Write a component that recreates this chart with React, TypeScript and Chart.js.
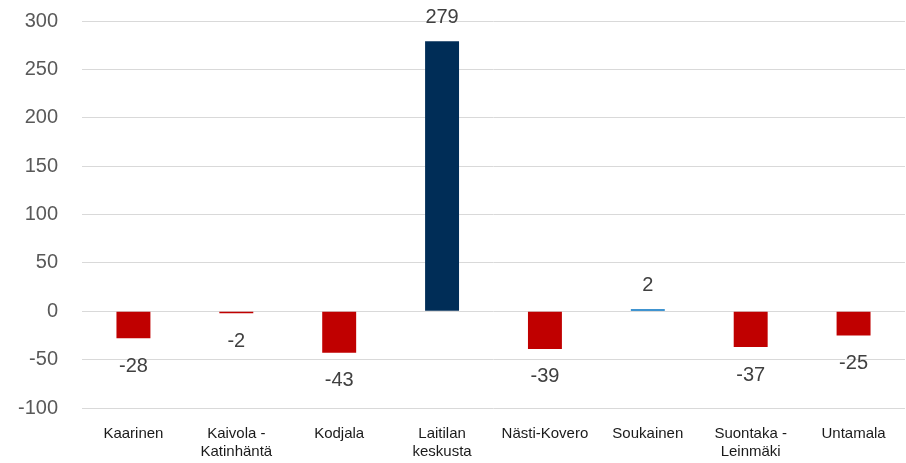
import React, { useEffect, useRef } from "react";
import { Chart, registerables } from "chart.js";

Chart.register(...registerables);

const categories: (string | string[])[] = [
  "Kaarinen",
  ["Kaivola -", "Katinhäntä"],
  "Kodjala",
  ["Laitilan", "keskusta"],
  "Nästi-Kovero",
  "Soukainen",
  ["Suontaka -", "Leinmäki"],
  "Untamala",
];
const values = [-28, -2, -43, 279, -39, 2, -37, -25];
const barColors = ["#C00000", "#C00000", "#C00000", "#002D57", "#C00000", "#0070C0", "#C00000", "#C00000"];
const yMin = -100;
const yMax = 300;
const yStep = 50;

const FONT = "'Liberation Sans', Arial, sans-serif";

const labelPlugin = {
  id: "valueLabels",
  afterDatasetsDraw(chart: any) {
    const ctx = chart.ctx;
    const meta = chart.getDatasetMeta(0);
    ctx.save();
    ctx.font = `20px ${FONT}`;
    ctx.fillStyle = "#404040";
    ctx.textAlign = "center";
    ctx.textBaseline = "middle";
    meta.data.forEach((bar: any, i: number) => {
      const v = values[i];
      const y = v < 0 ? bar.y + 28 : bar.y - 24;
      ctx.fillText(String(v), bar.x, y);
    });
    ctx.restore();
  },
};

export default function App() {
  const ref = useRef<HTMLCanvasElement>(null);
  useEffect(() => {
    document.body.style.margin = "0";
    const chart = new Chart(ref.current!, {
      type: "bar",
      data: {
        labels: categories,
        datasets: [
          {
            data: values,
            backgroundColor: barColors,
            borderWidth: 0,
            barPercentage: 0.33,
            categoryPercentage: 1,
          },
        ],
      },
      options: {
        animation: false,
        responsive: false,
        maintainAspectRatio: false,
        layout: { padding: { top: 21, right: 1, left: 0, bottom: 0 } },
        plugins: { legend: { display: false }, tooltip: { enabled: false } },
        scales: {
          x: {
            grid: { display: false },
            border: { display: false },
            ticks: {
              color: "#1a1a1a",
              font: { family: FONT, size: 15 },
              padding: 9,
              maxRotation: 0,
              autoSkip: false,
            },
            afterFit: (s: any) => {
              s.height = 55;
            },
          },
          y: {
            min: yMin,
            max: yMax,
            grid: {
              color: "#d9d9d9",
              lineWidth: 1,
              drawTicks: true,
              tickLength: 24,
              tickColor: "rgba(0,0,0,0)",
            },
            border: { display: false },
            ticks: {
              stepSize: yStep,
              color: "#595959",
              font: { family: FONT, size: 20 },
              padding: 0,
            },
            afterFit: (s: any) => {
              s.width = 82;
            },
          },
        },
      },
      plugins: [labelPlugin],
    });
    return () => chart.destroy();
  }, []);
  return (
    <div style={{ width: 906, height: 463 }}>
      <canvas ref={ref} width={906} height={463} />
    </div>
  );
}
